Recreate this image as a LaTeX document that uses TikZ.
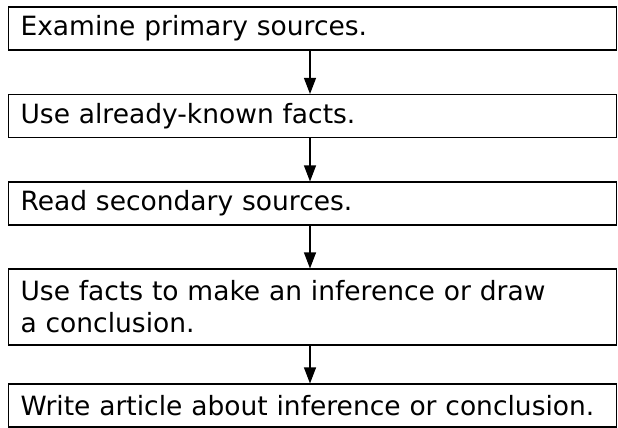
\documentclass[tikz,border=0pt]{standalone}
\usepackage{fontspec}
\setmainfont{DejaVu Sans}
\usetikzlibrary{arrows.meta}

\tikzset{
    stepbox/.style={draw, line width=1.1pt, rectangle, anchor=west,
        minimum width=608pt, minimum height=43pt, text width=584pt,
        inner xsep=12pt, align=left, font=\fontsize{26.5}{32}\selectfont},
    flow/.style={line width=1.1pt, -{Triangle[length=16pt,width=12pt]}}
}

\begin{document}
\begin{tikzpicture}[x=1pt, y=-1pt]

% Frame
\useasboundingbox (0,0) rectangle (618,428);

% Steps
\node[stepbox] (primary)   at (8,28.5)  {Examine primary sources.};
\node[stepbox] (known)     at (8,116)   {Use already-known facts.};
\node[stepbox] (secondary) at (8,203.5) {Read secondary sources.};
\node[stepbox, minimum height=76pt] (infer) at (8,307)
    {Use facts to make an inference or draw\\a conclusion.};
\node[stepbox] (article)   at (8,405.5) {Write article about inference or conclusion.};

% Arrows
\draw[flow] (primary.south -| 310,0)   -- (known.north -| 310,0);
\draw[flow] (known.south -| 310,0)     -- (secondary.north -| 310,0);
\draw[flow] (secondary.south -| 310,0) -- (infer.north -| 310,0);
\draw[flow] (infer.south -| 310,0)     -- (article.north -| 310,0);

\end{tikzpicture}
\end{document}
